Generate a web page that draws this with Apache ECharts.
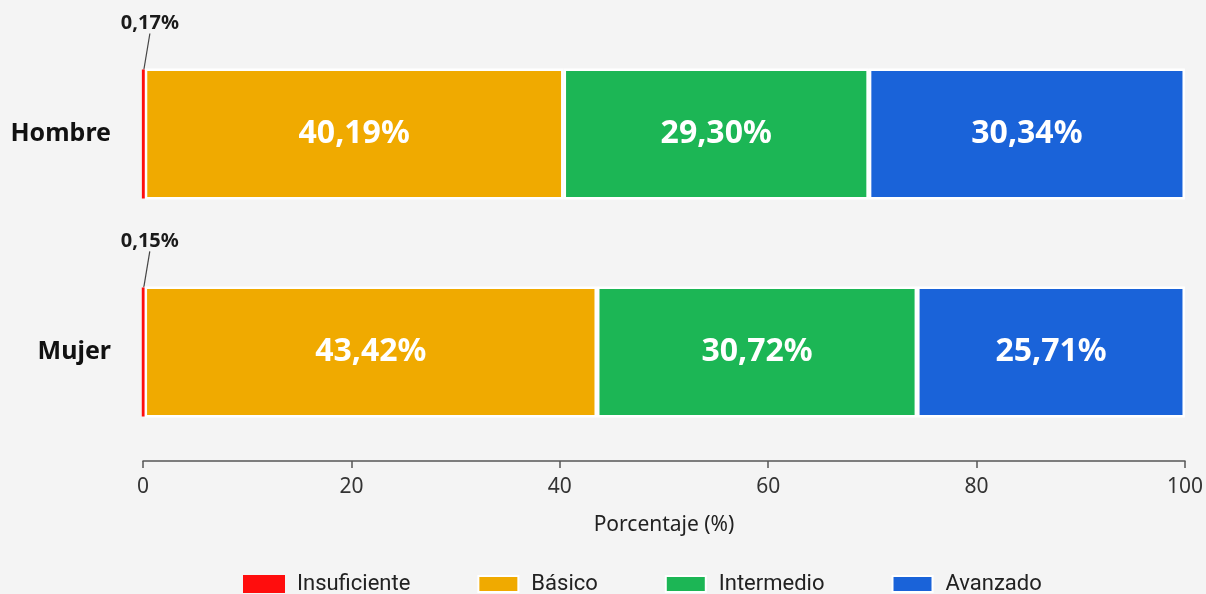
<!DOCTYPE html>
<html>
<head>
<meta charset="utf-8">
<style>
html,body{margin:0;padding:0;background:#f4f4f4;}
#chart{width:1206px;height:594px;}
</style>
<script src="https://cdn.jsdelivr.net/npm/echarts@6/dist/echarts.min.js"></script>
</head>
<body>
<div id="chart"></div>
<script>
const categories = ['Hombre', 'Mujer'];
const seriesNames = ['Insuficiente', 'Básico', 'Intermedio', 'Avanzado'];
const insuficiente = [0.17, 0.15];
const basico = [40.19, 43.42];
const intermedio = [29.30, 30.72];
const avanzado = [30.34, 25.71];
const xTicks = [0, 20, 40, 60, 80, 100];
const colors = ['#ff0d0d', '#f0aa00', '#1cb655', '#1a63d9'];

const fmt = v => v.toFixed(2).replace('.', ',') + '%';
const FONT = '"Noto Sans", "Open Sans", sans-serif';

const chart = echarts.init(document.getElementById('chart'));
const values = [insuficiente, basico, intermedio, avanzado];

const series = values.map((arr, i) => {
  const s = {
    name: seriesNames[i],
    type: 'bar',
    stack: 'total',
    barWidth: '60%',
    data: arr,
    itemStyle: { color: colors[i], borderColor: i === 0 ? colors[0] : '#ffffff', borderWidth: i === 0 ? 4 : 2.5 },
    emphasis: { disabled: true },
    animation: false
  };
  if (i === 0) {
    s.z = 1;
    s.label = {
      show: true,
      position: 'top',
      distance: 4,
      formatter: p => fmt(p.value),
      fontFamily: FONT,
      fontWeight: 'bold',
      fontSize: 20,
      color: '#1a1a1a',
      padding: [0, 0, 8, 0]
    };
    s.labelLayout = { dx: 6, dy: -22 };
    s.labelLine = { show: true, lineStyle: { color: '#444', width: 1.2 } };
  } else {
    s.z = 2;
    s.label = {
      show: true,
      position: 'inside',
      formatter: p => fmt(p.value),
      fontFamily: FONT,
      fontWeight: 'bold',
      fontSize: 32,
      color: '#ffffff'
    };
  }
  return s;
});

chart.setOption({
  backgroundColor: '#f4f4f4',
  animation: false,
  grid: { left: 143, right: 20, top: 25, bottom: 133, containLabel: false },
  legend: {
    data: seriesNames,
    left: 238,
    top: 568,
    icon: 'rect',
    itemWidth: 40,
    itemHeight: 16,
    itemGap: 67,
    textStyle: { fontFamily: 'Roboto, sans-serif', fontSize: 22, color: '#222', padding: [0, 0, 0, 8] }
  },
  xAxis: {
    type: 'value',
    min: xTicks[0],
    max: xTicks[xTicks.length - 1],
    interval: xTicks[1] - xTicks[0],
    name: 'Porcentaje (%)',
    nameLocation: 'middle',
    nameGap: 54,
    nameTextStyle: { fontFamily: FONT, fontSize: 21, color: '#222' },
    axisLine: { show: true, lineStyle: { color: '#555', width: 1.5 } },
    axisTick: { show: true, length: 7, lineStyle: { color: '#555', width: 1.5 } },
    axisLabel: { fontFamily: FONT, fontSize: 21, color: '#333', margin: 16 },
    splitLine: { show: false }
  },
  yAxis: {
    type: 'category',
    data: categories,
    inverse: true,
    axisLine: { show: false },
    axisTick: { show: false },
    axisLabel: { fontFamily: FONT, fontWeight: 'bold', fontSize: 25, color: '#111', margin: 32 }
  },
  series: series
});
</script>
</body>
</html>
